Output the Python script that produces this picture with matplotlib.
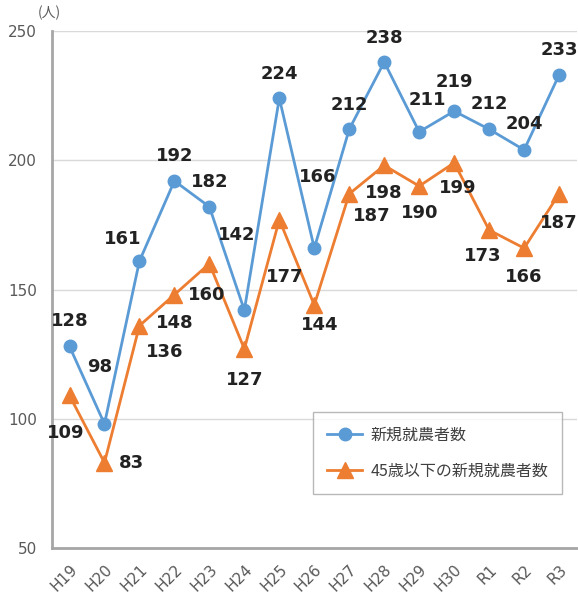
import matplotlib.pyplot as plt

plt.rcParams['font.family'] = ['DejaVu Sans', 'Noto Sans CJK JP']

years = ['H19', 'H20', 'H21', 'H22', 'H23', 'H24', 'H25', 'H26',
         'H27', 'H28', 'H29', 'H30', 'R1', 'R2', 'R3']
new_farmers = [128, 98, 161, 192, 182, 142, 224, 166, 212, 238, 211, 219, 212, 204, 233]
young_farmers = [109, 83, 136, 148, 160, 127, 177, 144, 187, 198, 190, 199, 173, 166, 187]

# label offsets in pixels (dx, dy)
blue_off = [(0, 25), (-5, 57), (-17, 22), (0, 25), (0, 25), (-8, 75), (0, 24), (3, 71),
            (0, 24), (0, 24), (8, 32), (0, 29), (0, 25), (0, 26), (0, 25)]
orange_off = [(-4, -38), (27, 0), (25, -26), (0, -28), (-3, -31), (0, -31), (5, -57), (5, -20),
              (22, -22), (0, -28), (0, -27), (4, -25), (-6, -26), (0, -29), (0, -29)]

blue = '#5B9BD5'
orange = '#ED7D31'

fig = plt.figure(figsize=(5.78, 6.02), dpi=100)
ax = fig.add_axes([0.09, 0.0897, 0.9075, 0.8588])

x = range(len(years))
ax.plot(x, new_farmers, color=blue, lw=2, marker='o', ms=9, label='新規就農者数', zorder=3)
ax.plot(x, young_farmers, color=orange, lw=2, marker='^', ms=12, label='45歳以下の新規就農者数', zorder=3)

for i, v in enumerate(new_farmers):
    ax.annotate(str(v), (i, v), xytext=blue_off[i], textcoords='offset pixels',
                ha='center', va='center', fontsize=13, fontweight='bold', color='#222222', zorder=4)
for i, v in enumerate(young_farmers):
    ax.annotate(str(v), (i, v), xytext=orange_off[i], textcoords='offset pixels',
                ha='center', va='center', fontsize=13, fontweight='bold', color='#222222', zorder=4)

ax.set_xlim(-0.5, len(years) - 0.5)
ax.set_ylim(50, 250)
ax.set_yticks([50, 100, 150, 200, 250])
ax.set_xticks(list(x))
ax.set_xticklabels(years, rotation=45, ha='right', va='top', rotation_mode='anchor')
ax.tick_params(axis='both', length=0, labelsize=11, colors='#595959')
ax.tick_params(axis='y', pad=11)
ax.tick_params(axis='x', pad=10)
ax.yaxis.grid(True, color='#D9D9D9', lw=1)
ax.set_axisbelow(True)

for s in ['top', 'right']:
    ax.spines[s].set_visible(False)
ax.spines['left'].set_color('#A6A6A6')
ax.spines['left'].set_linewidth(2)
ax.spines['bottom'].set_color('#A6A6A6')
ax.spines['bottom'].set_linewidth(2)

fig.text(0.065, 0.972, '(人)', fontsize=10, color='#595959', family=['Noto Sans CJK JP'])

leg = ax.legend(loc='upper left', bbox_to_anchor=(0.497, 0.263), frameon=True,
                fancybox=False, edgecolor='#A6A6A6', borderpad=0.9,
                labelspacing=1.2, handlelength=2.2, handletextpad=0.5, borderaxespad=0,
                prop={'family': ['Noto Sans CJK JP'], 'size': 11.5})
leg.get_frame().set_linewidth(1)
for t in leg.get_texts():
    t.set_color('#404040')

fig.savefig('out.png', dpi=100)
